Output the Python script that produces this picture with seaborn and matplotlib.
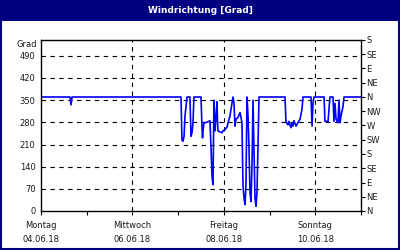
import numpy as np
import pandas as pd
import matplotlib
matplotlib.use("Agg")
import matplotlib.pyplot as plt
from matplotlib.patches import Rectangle
import seaborn as sns

# ---- data (hours since Mon 04.06.18 00:00, wind direction in degrees) ----
hours = [0, 15.2, 15.75, 16.3, 73.5,
         74.0, 74.55, 75.1, 75.6, 76.65, 78.2,
         78.75, 79.3, 79.8, 80.3, 84.0,
         84.5, 84.8, 85.05, 85.6, 86.6, 87.7, 88.7,
         89.25, 89.8, 90.3, 90.8, 91.35, 91.9, 92.4, 92.7, 92.9, 94.0, 95.0, 95.55,
         96.6, 97.65, 98.2, 99.2, 100.3, 100.8, 101.3, 101.85, 102.4, 103.4, 104.5,
         105.5, 106.05, 106.6, 107.1, 107.6, 108.15, 108.7, 109.2, 109.7, 110.25,
         110.8, 111.3, 111.8, 112.35, 112.9, 113.4, 113.9, 114.45, 128.1,
         128.6, 129.15, 129.7, 130.2, 130.7, 131.25, 131.8, 132.3, 132.8, 133.35,
         133.9, 134.9, 136.0, 137.0, 137.55, 141.75, 142.3, 142.8, 143.3, 148.6,
         149.1, 150.7, 151.7, 153.3, 153.8, 154.35, 154.9, 155.9, 156.45, 157.0,
         157.5, 158.55, 159.1, 168.0]
degrees = [360, 360, 335, 360, 360,
           225, 220, 236, 300, 360, 360,
           236, 248, 279, 360, 360,
           268, 231, 253, 279, 279, 282, 285,
           200, 109, 83, 350, 253, 300, 345, 279, 253, 250, 247, 253,
           257, 265, 279, 300, 342, 360, 342, 268, 290, 295, 311,
           279, 80, 40, 20, 80, 360, 300, 200, 60, 30,
           150, 350, 200, 40, 15, 60, 200, 360, 360,
           283, 276, 272, 283, 272, 263, 279, 268, 285, 276,
           268, 279, 290, 321, 360, 360, 268, 340, 360, 360,
           283, 283, 360, 360, 283, 340, 290, 279, 350, 279,
           300, 330, 360, 360]

day_ticks = [0, 48, 96, 144]
day_labels = ["Montag\n04.06.18", "Mittwoch\n06.06.18", "Freitag\n08.06.18", "Sonntag\n10.06.18"]
left_ticks = [0, 70, 140, 210, 280, 350, 420, 490]
right_ticks = [0, 45, 90, 135, 180, 225, 270, 315, 360, 405, 450, 495, 540]
right_labels = ["N", "NE", "E", "SE", "S", "SW", "W", "NW", "N", "NE", "E", "SE", "S"]
title = "Windrichtung [Grad]"
unit = "Grad"

sns.set_style("white")
plt.rcParams['font.family'] = ['DejaVu Sans']

NAVY = "#000080"
TXT = "#1a1a1a"
FS = 6

fig = plt.figure(figsize=(4, 2.5), dpi=100)
fig.patch.set_facecolor("white")

# title bar and border
fig.patches.append(Rectangle((0, 1 - 21 / 250), 1, 21 / 250, transform=fig.transFigure,
                             facecolor=NAVY, edgecolor="none", zorder=0))
fig.patches.append(Rectangle((0.002, 0.004), 0.996, 0.992, transform=fig.transFigure,
                             facecolor="none", edgecolor=NAVY, linewidth=1.5, zorder=5))
fig.text(0.5, 1 - 10.5 / 250, title, color="white", fontsize=6.5, fontweight="bold",
         ha="center", va="center")

ax = fig.add_axes([41 / 400, 1 - 211 / 250, 320 / 400, 171 / 250])
df = pd.DataFrame({"h": hours, "deg": degrees})
sns.lineplot(data=df, x="h", y="deg", ax=ax, color="#0000FF", linewidth=1.2,
             estimator=None, sort=False)

ax.set_xlim(0, 168)
ax.set_ylim(0, 540)
ax.set_xlabel("")
ax.set_ylabel("")

ax.set_yticks(left_ticks)
ax.set_yticklabels([str(t) for t in left_ticks])
ax.tick_params(axis="y", length=0, pad=4, labelsize=FS, labelcolor=TXT)

ax.set_xticks(day_ticks)
ax.set_xticklabels(day_labels, linespacing=1.6)
ax.set_xticks([24, 72, 120, 168], minor=True)
ax.tick_params(axis="x", which="both", length=3, width=0.8, direction="out",
               pad=4.5, labelsize=FS, labelcolor=TXT, color="black", bottom=True)

for t in left_ticks[1:]:
    ax.axhline(t, color="black", linestyle=(0, (4, 4)), linewidth=0.8, zorder=1)
for t in day_ticks[1:]:
    ax.axvline(t, color="black", linestyle=(0, (4, 4)), linewidth=0.8, zorder=1)

for s in ax.spines.values():
    s.set_color("black")
    s.set_linewidth(1.0)

ax.text(-0.012, 525, unit, transform=ax.get_yaxis_transform(), ha="right", va="center",
        fontsize=FS, color=TXT)

ax2 = ax.twinx()
ax2.set_ylim(0, 540)
ax2.set_yticks(right_ticks)
ax2.set_yticklabels(right_labels)
ax2.tick_params(axis="y", length=3, width=0.8, direction="out", pad=1,
                labelsize=FS, labelcolor=TXT, color="black")
for s in ax2.spines.values():
    s.set_visible(False)

fig.savefig("out.png", dpi=100, facecolor="white")
